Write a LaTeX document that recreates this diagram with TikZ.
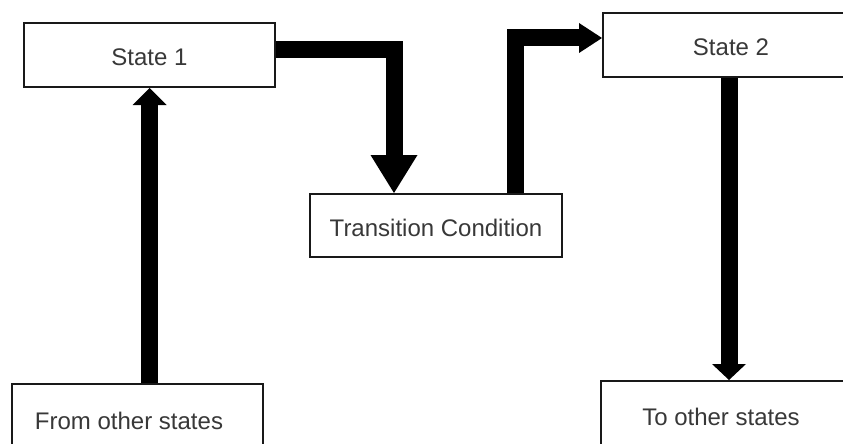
\documentclass[tikz,border=0pt]{standalone}
\usepackage{fontspec}
\setmainfont{Liberation Sans}
\usetikzlibrary{arrows.meta}
\newcommand{\lowtxt}[1]{\raisebox{-2.5pt}[\height][0pt]{#1}}
\begin{document}
\begin{tikzpicture}[x=1pt,y=-1pt,
  lbl/.style={text=black!78, font=\fontsize{24}{28}\selectfont},
  box/.style={draw=black!90, line width=2pt, fill=white, inner sep=0pt, lbl},
  txt/.style={inner sep=0pt, lbl},
  flow/.style={line width=17pt, line join=miter, draw=black}]
\useasboundingbox (0,0) rectangle (843,444);
\clip (0,0) rectangle (843,444);
% boxes
\node[box, minimum width=251pt, minimum height=64pt] (s1) at (149.5,55) {\lowtxt{State 1}};
\node[box, minimum width=252pt, minimum height=63pt] (tc) at (436,225.5) {\lowtxt{Transition Condition}};
\node[box, minimum width=256pt, minimum height=64pt] (s2) at (731,45) {\lowtxt{State 2}};
\node[box, minimum width=251pt, minimum height=76pt] (fr) at (137.5,422) {};
\node[txt] (frt) at (129,421) {From other states};
\node[box, minimum width=258pt, minimum height=76pt] (to) at (730,419) {};
\node[txt] (tot) at (721,417) {To other states};
% block arrows
\draw[flow, -{Triangle[length=17pt,width=34pt,line width=0pt]}] (s1.south |- fr.north) -- (s1.south);
\draw[flow, -{Triangle[length=38pt,width=47pt,line width=0pt]}] ([yshift=5.5pt]s1.east) -| ([xshift=-42pt]tc.north);
\draw[flow, -{Triangle[length=23pt,width=30pt,line width=0pt]}] ([xshift=79pt]tc.north) |- ([yshift=7pt]s2.west);
\draw[flow, -{Triangle[length=16pt,width=34pt,line width=0pt]}] ([xshift=-2pt]s2.south) -- ([xshift=-2pt]s2.south |- to.north);
\end{tikzpicture}
\end{document}
